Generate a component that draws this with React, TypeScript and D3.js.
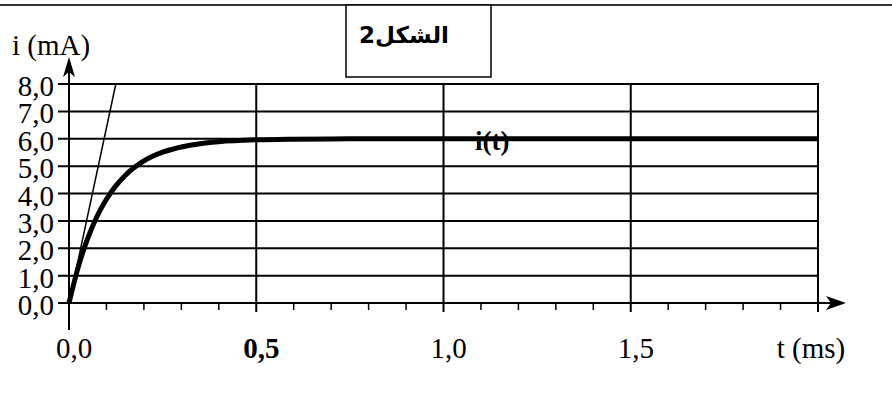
import React from "react";
import * as d3 from "d3";

// Time samples (ms) and measured current i(t) (mA)
const timeMs = [0, 0.025, 0.05, 0.075, 0.1, 0.125, 0.15, 0.2, 0.25, 0.3, 0.35, 0.4, 0.5, 0.6, 0.7, 0.8, 1.0, 1.5, 2.0];
const currentMa = [0, 1.33, 2.36, 3.17, 3.79, 4.28, 4.66, 5.19, 5.51, 5.7, 5.82, 5.89, 5.96, 5.985, 5.995, 6.0, 6.0, 6.0, 6.0];

// Tangent at the origin
const tangentT = [0, 0.125];
const tangentI = [0, 8];

const yTicks = [0, 1, 2, 3, 4, 5, 6, 7, 8];
const yTickLabels = ["0,0", "1,0", "2,0", "3,0", "4,0", "5,0", "6,0", "7,0", "8,0"];
const xMajor = [0.5, 1.0, 1.5, 2.0];
const xLabels = [
  { t: 0, text: "0,0", bold: false },
  { t: 0.5, text: "0,5", bold: true },
  { t: 1.0, text: "1,0", bold: false },
  { t: 1.5, text: "1,5", bold: false },
];
const xMinor = d3.range(1, 20).map((k) => k / 10).filter((v) => Math.abs(v * 2 - Math.round(v * 2)) > 1e-6);

const W = 892;
const H = 394;
const serif = "Liberation Serif, Times New Roman, serif";

export default function App() {
  const x = d3.scaleLinear().domain([0, 2]).range([69, 818]);
  const y = d3.scaleLinear().domain([0, 8]).range([303, 84]);

  const curve = d3
    .line<number>()
    .x((_, i) => x(timeMs[i]))
    .y((d) => y(d))
    .curve(d3.curveMonotoneX)(currentMa) as string;

  const tangent = d3
    .line<number>()
    .x((_, i) => x(tangentT[i]))
    .y((d) => y(d))(tangentI) as string;

  const x0 = x(0);
  const y0 = y(0);

  return (
    <svg width={W} height={H} style={{ position: "absolute", left: 0, top: 0, background: "#fff" }}>
      {/* top rule */}
      <line x1={0} x2={W} y1={5} y2={5} stroke="#333" strokeWidth={2} />

      {/* title box */}
      <rect x={346} y={5} width={145} height={72} fill="#fff" stroke="#000" strokeWidth={1.5} />
      <text x={404} y={43} textAnchor="middle" fontFamily="DejaVu Sans, sans-serif" fontWeight="bold" fontSize={23} direction="rtl">
        الشكل2
      </text>

      {/* horizontal grid lines */}
      {yTicks.filter((v) => v > 0).map((v) => (
        <line key={"h" + v} x1={58} x2={x(2)} y1={y(v)} y2={y(v)} stroke="#000" strokeWidth={2} />
      ))}
      {/* vertical grid lines */}
      {xMajor.map((v) => (
        <line key={"v" + v} x1={x(v)} x2={x(v)} y1={y(8) - 1} y2={y0 + 9} stroke="#000" strokeWidth={2} />
      ))}
      {/* minor ticks */}
      {xMinor.map((v) => (
        <line key={"m" + v} x1={x(v)} x2={x(v)} y1={y0} y2={y0 + 7} stroke="#000" strokeWidth={1.5} />
      ))}

      {/* x axis */}
      <line x1={58} x2={838} y1={y0} y2={y0} stroke="#000" strokeWidth={2} />
      <path d={`M${846},${y0} L${826},${y0 - 7} L${831},${y0} L${826},${y0 + 7} Z`} fill="#000" />
      {/* y axis */}
      <line x1={x0} x2={x0} y1={330} y2={64} stroke="#000" strokeWidth={2} />
      <path d={`M${x0},${57} L${x0 - 6},${77} L${x0},${72} L${x0 + 6},${77} Z`} fill="#000" />

      {/* tangent and curve */}
      <path d={tangent} fill="none" stroke="#000" strokeWidth={1.5} />
      <path d={curve} fill="none" stroke="#000" strokeWidth={5} strokeLinejoin="round" />

      {/* y tick labels */}
      {yTicks.map((v, i) => (
        <text key={"yl" + v} x={54} y={y(v) + 12} textAnchor="end" fontFamily={serif} fontSize={29}>
          {yTickLabels[i]}
        </text>
      ))}
      <text x={12} y={55} fontFamily={serif} fontSize={29}>i (mA)</text>

      {/* x tick labels */}
      {xLabels.map((d) => (
        <text key={"xl" + d.t} x={x(d.t) + 5} y={358} textAnchor="middle" fontFamily={serif} fontSize={29} fontWeight={d.bold ? "bold" : "normal"}>
          {d.text}
        </text>
      ))}
      <text x={811} y={358} textAnchor="middle" fontFamily={serif} fontSize={29}>t (ms)</text>

      {/* curve label */}
      <text x={475} y={150} fontFamily={serif} fontSize={27} fontWeight="bold">i(t)</text>
    </svg>
  );
}
